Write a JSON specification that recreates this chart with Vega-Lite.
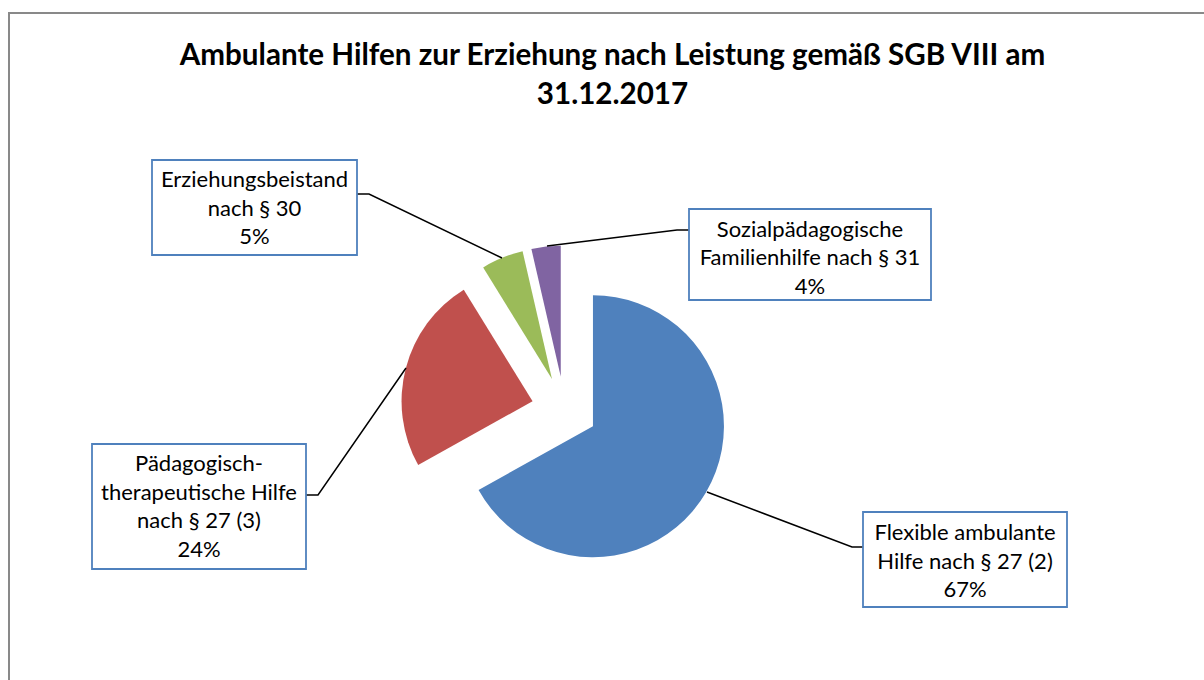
{
  "$schema": "https://vega.github.io/schema/vega-lite/v6.json",
  "width": 1195,
  "height": 667,
  "autosize": "none",
  "padding": {"left": 9, "top": 13, "right": 0, "bottom": 0},
  "background": "white",
  "config": {
    "view": {"stroke": "#898989", "strokeWidth": 2, "strokeDash": [1195, 1862, 667]},
    "font": "Lato"
  },
  "title": {
    "text": ["Ambulante Hilfen zur Erziehung nach Leistung gemäß SGB VIII am", "31.12.2017"],
    "font": "Lato",
    "fontSize": 29.6,
    "fontWeight": "bold",
    "color": "#000000",
    "anchor": "middle",
    "frame": "group",
    "baseline": "alphabetic",
    "lineHeight": 39,
    "offset": -121,
    "dx": 6
  },
  "datasets": {
    "slices": [
      {"category": "Flexible ambulante Hilfe nach § 27 (2)", "share": 0.669},
      {"category": "Pädagogisch-therapeutische Hilfe nach § 27 (3)", "share": 0.243},
      {"category": "Erziehungsbeistand nach § 30", "share": 0.052},
      {"category": "Sozialpädagogische Familienhilfe nach § 31", "share": 0.036}
    ],
    "callouts": [
      {"category": "Flexible ambulante Hilfe nach § 27 (2)", "label": "Flexible ambulante\nHilfe nach § 27 (2)\n67%", "x0": 863, "x1": 1067, "y0": 512, "y1": 607, "tx": 965, "ty": 540},
      {"category": "Pädagogisch-therapeutische Hilfe nach § 27 (3)", "label": "Pädagogisch-\ntherapeutische Hilfe\nnach § 27 (3)\n24%", "x0": 92, "x1": 306, "y0": 444, "y1": 569, "tx": 199, "ty": 471},
      {"category": "Erziehungsbeistand nach § 30", "label": "Erziehungsbeistand\nnach § 30\n5%", "x0": 152, "x1": 357, "y0": 160, "y1": 255, "tx": 254.5, "ty": 187},
      {"category": "Sozialpädagogische Familienhilfe nach § 31", "label": "Sozialpädagogische\nFamilienhilfe nach § 31\n4%", "x0": 689, "x1": 931, "y0": 209, "y1": 300, "tx": 810, "ty": 236.7}
    ],
    "leaders": [
      {"category": "Flexible ambulante Hilfe nach § 27 (2)", "pt": 1, "x": 863, "y": 547},
      {"category": "Flexible ambulante Hilfe nach § 27 (2)", "pt": 2, "x": 852, "y": 547},
      {"category": "Flexible ambulante Hilfe nach § 27 (2)", "pt": 3, "x": 707, "y": 492},
      {"category": "Pädagogisch-therapeutische Hilfe nach § 27 (3)", "pt": 1, "x": 306, "y": 495},
      {"category": "Pädagogisch-therapeutische Hilfe nach § 27 (3)", "pt": 2, "x": 318, "y": 495},
      {"category": "Pädagogisch-therapeutische Hilfe nach § 27 (3)", "pt": 3, "x": 406, "y": 368},
      {"category": "Erziehungsbeistand nach § 30", "pt": 1, "x": 357, "y": 194},
      {"category": "Erziehungsbeistand nach § 30", "pt": 2, "x": 369, "y": 194},
      {"category": "Erziehungsbeistand nach § 30", "pt": 3, "x": 502, "y": 258},
      {"category": "Sozialpädagogische Familienhilfe nach § 31", "pt": 1, "x": 689, "y": 230},
      {"category": "Sozialpädagogische Familienhilfe nach § 31", "pt": 2, "x": 677, "y": 230},
      {"category": "Sozialpädagogische Familienhilfe nach § 31", "pt": 3, "x": 547, "y": 246}
    ]
  },
  "layer": [
    {
      "data": {"name": "slices"},
      "transform": [
        {"stack": "share", "groupby": [], "sort": [{"field": "share", "order": "descending"}], "as": ["s0", "s1"]}
      ],
      "mark": {
        "type": "arc",
        "radius": 131,
        "xOffset": {"expr": "33*sin(PI*(datum.s0+datum.s1))"},
        "yOffset": {"expr": "-33*cos(PI*(datum.s0+datum.s1))"}
      },
      "encoding": {
        "x": {"datum": 564.5, "type": "quantitative", "scale": {"domain": [9, 1204], "nice": false, "zero": false}, "axis": null},
        "y": {"datum": 409.5, "type": "quantitative", "scale": {"domain": [13, 680], "nice": false, "zero": false, "reverse": true}, "axis": null},
        "theta": {"field": "s0", "type": "quantitative", "scale": {"domain": [0, 1]}},
        "theta2": {"field": "s1"},
        "color": {
          "field": "category",
          "type": "nominal",
          "scale": {
            "domain": ["Flexible ambulante Hilfe nach § 27 (2)", "Pädagogisch-therapeutische Hilfe nach § 27 (3)", "Erziehungsbeistand nach § 30", "Sozialpädagogische Familienhilfe nach § 31"],
            "range": ["#4F81BD", "#C0504D", "#9BBB59", "#8064A2"]
          },
          "legend": null
        }
      }
    },
    {
      "data": {"name": "leaders"},
      "mark": {"type": "line", "color": "#000000", "strokeWidth": 1.5},
      "encoding": {
        "x": {"field": "x", "type": "quantitative", "scale": {"domain": [9, 1204], "nice": false, "zero": false}, "axis": null},
        "y": {"field": "y", "type": "quantitative", "scale": {"domain": [13, 680], "nice": false, "zero": false, "reverse": true}, "axis": null},
        "detail": {"field": "category", "type": "nominal"},
        "order": {"field": "pt", "type": "quantitative"}
      }
    },
    {
      "data": {"name": "callouts"},
      "mark": {"type": "rect", "fill": "white", "stroke": "#4F81BD", "strokeWidth": 1.8},
      "encoding": {
        "x": {"field": "x0", "type": "quantitative", "scale": {"domain": [9, 1204], "nice": false, "zero": false}, "axis": null},
        "x2": {"field": "x1"},
        "y": {"field": "y0", "type": "quantitative", "scale": {"domain": [13, 680], "nice": false, "zero": false, "reverse": true}, "axis": null},
        "y2": {"field": "y1"}
      }
    },
    {
      "data": {"name": "callouts"},
      "mark": {"type": "text", "font": "Lato", "fontSize": 22, "color": "#000000", "align": "center", "baseline": "alphabetic", "lineBreak": "\n", "lineHeight": 28.5},
      "encoding": {
        "x": {"field": "tx", "type": "quantitative", "scale": {"domain": [9, 1204], "nice": false, "zero": false}, "axis": null},
        "y": {"field": "ty", "type": "quantitative", "scale": {"domain": [13, 680], "nice": false, "zero": false, "reverse": true}, "axis": null},
        "text": {"field": "label", "type": "nominal"}
      }
    }
  ]
}
